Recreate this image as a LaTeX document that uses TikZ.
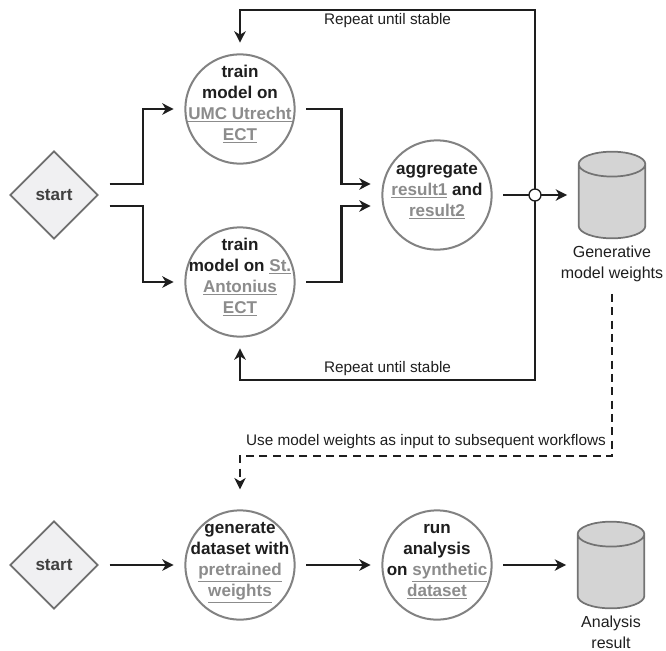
\documentclass[tikz,border=0pt]{standalone}
\usepackage{fontspec}
\setmainfont{Liberation Sans}
\usetikzlibrary{shapes.geometric,arrows.meta}

\definecolor{inkdark}{RGB}{30,30,30}
\definecolor{ringgray}{RGB}{130,130,130}
\definecolor{linkgray}{RGB}{140,140,140}
\definecolor{diamondfill}{RGB}{240,240,242}
\definecolor{diamondline}{RGB}{110,110,110}
\definecolor{storefill}{RGB}{212,212,212}
\definecolor{storeline}{RGB}{115,115,115}

% underlined grey references inside the steps
\newcommand{\lnk}[1]{\textcolor{linkgray}{\underline{#1}}}
% step text that does not grow the circle
\newcommand{\ringtext}[1]{\smash{\makebox[0pt]{\begin{tabular}{@{}c@{}}#1\end{tabular}}}}

\begin{document}
\begin{tikzpicture}[x=0.75pt, y=-0.75pt,
    startbox/.style={diamond, draw=diamondline, fill=diamondfill, line width=1.3pt,
        minimum width=66pt, minimum height=66pt, inner sep=0pt,
        font=\fontsize{12.8}{15.75}\selectfont\bfseries, text=inkdark!85},
    ring/.style={circle, draw=ringgray, line width=1.5pt, fill=white,
        minimum size=82pt, inner sep=0pt,
        font=\fontsize{12.8}{15.75}\selectfont\bfseries, text=inkdark},
    store/.style={cylinder, shape border rotate=90, aspect=2.8, draw=storeline,
        fill=storefill, line width=1.3pt, minimum height=65pt, minimum width=50pt,
        anchor=shape center},
    storelabel/.style={font=\fontsize{12}{15.5}\selectfont, text=inkdark, align=center,
        inner sep=1pt},
    edgelabel/.style={font=\fontsize{11.5}{14}\selectfont, text=inkdark, inner sep=2pt},
    flow/.style={draw=inkdark, line width=1.8pt,
        -{Stealth[length=8.5pt, width=8.5pt, inset=2.5pt]},
        shorten >=8pt, shorten <=8pt},
    repeat/.style={flow, shorten <=0pt},
    reuse/.style={flow, line width=1.5pt, dash pattern=on 6pt off 4pt},
    joint/.style={circle, draw=inkdark, fill=white, line width=1pt,
        minimum size=9pt, inner sep=0pt}]
    \useasboundingbox (0,0) rectangle (666,650);

    % Training workflow
    \node[startbox] (start1) at (54,195) {start};
    \node[ring] (umc) at (240,109)
        {\ringtext{train\\ model on\\ \lnk{UMC Utrecht}\\ \lnk{ECT}}};
    \node[ring] (antonius) at (240,282)
        {\ringtext{train\\ model on \lnk{St.}\\ \lnk{Antonius}\\ \lnk{ECT}}};
    \node[ring] (aggregate) at (437,195)
        {\ringtext{aggregate\\ \lnk{result1} and\\ \lnk{result2}}};
    \node[store] (weights) at (612,195) {};
    \node[storelabel, below=4pt] (weightslabel) at (weights.south)
        {Generative\\ model weights};
    \coordinate (junction) at (535,195);

    \draw[flow] ([shift={(0,-11)}]start1.east) -- ++(44,0) |- (umc);
    \draw[flow] ([shift={(0,11)}]start1.east) -- ++(44,0) |- (antonius);
    \draw[flow] (umc.east) -- ++(46,0) |- ([shift={(0,-11)}]aggregate.west);
    \draw[flow] (antonius.east) -- ++(46,0) |- ([shift={(0,11)}]aggregate.west);
    \draw[flow] (aggregate.east) -- (aggregate.east -| weights.west);

    % Repeat loops back to both sites
    \draw[repeat] (junction) -- (535,10)
        -| node[edgelabel, pos=0.25, below] {Repeat until stable} (umc);
    \draw[repeat] (junction) -- (535,380)
        -| node[edgelabel, pos=0.25, above] {Repeat until stable} (antonius);
    \node[joint] at (junction) {};

    % Weights handed on to the next workflow
    \draw[reuse] (weightslabel) -- (612,456)
        -| node[edgelabel, pos=0.25, above=3pt] {Use model weights as input to subsequent workflows} (240,500);

    % Analysis workflow
    \node[startbox] (start2) at (54,565) {start};
    \node[ring] (generate) at (240,565)
        {\ringtext{generate\\ dataset with\\ \lnk{pretrained}\\ \lnk{weights}}};
    \node[ring] (analysis) at (437,565)
        {\ringtext{run\\ analysis\\ on \lnk{synthetic}\\ \lnk{dataset}}};
    \node[store] (result) at (611,565) {};
    \node[storelabel, below=4pt] at (result.south) {Analysis\\ result};

    \draw[flow] (start2) -- (generate);
    \draw[flow] (generate) -- (analysis);
    \draw[flow] (analysis.east) -- (analysis.east -| result.west);
\end{tikzpicture}
\end{document}
